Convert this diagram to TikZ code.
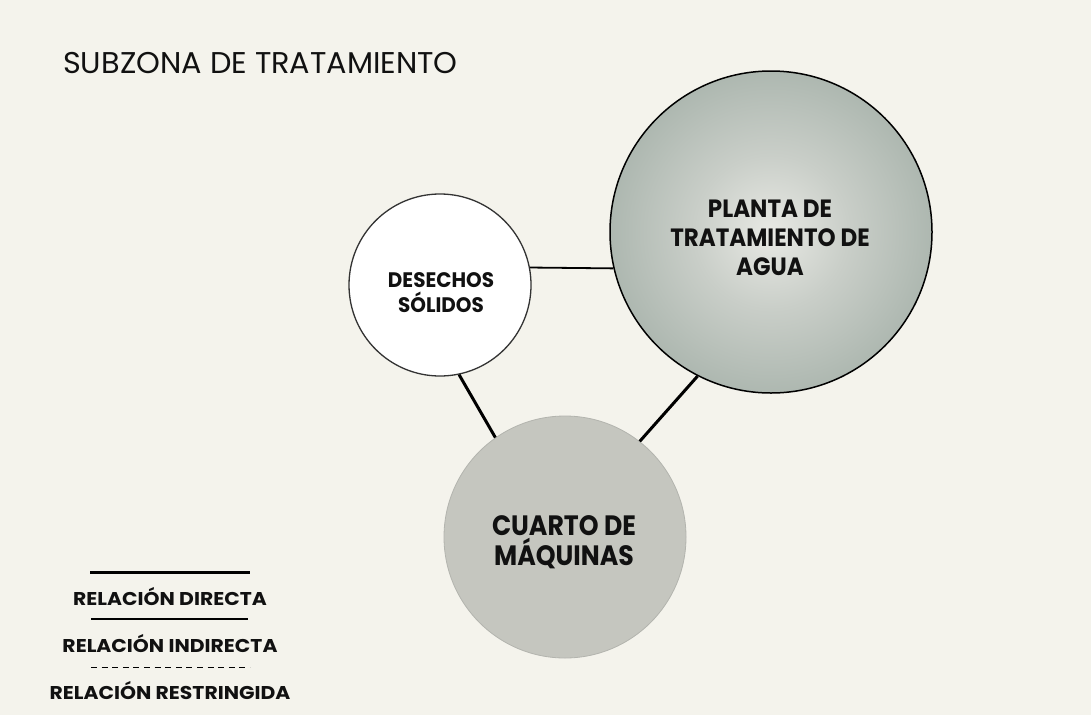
\documentclass[tikz,border=0pt]{standalone}
\usepackage{fontspec}
\usepackage{graphicx}
\setmainfont{Poppins}
\definecolor{bg}{HTML}{F4F3EC}
\definecolor{ptc1}{HTML}{E8E9E4}
\definecolor{ptc2}{HTML}{C9CEC8}
\definecolor{ptc3}{HTML}{A3AFA7}
\definecolor{ptc4}{HTML}{70857E}
\definecolor{cmfill}{HTML}{C5C6BF}
\definecolor{cmedge}{HTML}{B3B4AE}
\definecolor{txt}{HTML}{111111}
\newcommand\myhsc[2]{\scalebox{#1}[1]{#2}}
\pgfdeclareradialshading{plantshade}{\pgfpoint{0bp}{0bp}}{color(0bp)=(ptc1); color(12bp)=(ptc2); color(30bp)=(ptc3); color(50bp)=(ptc4)}
\tikzset{
  circ/.style={circle, inner sep=0pt},
  titletext/.style={font=\fontsize{30}{36}\selectfont, text=txt, inner sep=0pt, anchor=base west},
  bigtxt/.style={font=\bfseries\fontsize{25}{30}\selectfont, text=txt, inner sep=0pt, anchor=base},
  medtxt/.style={font=\bfseries\fontsize{28}{34}\selectfont, text=txt, inner sep=0pt, anchor=base},
  smalltxt/.style={font=\bfseries\fontsize{21}{25}\selectfont, text=txt, inner sep=0pt, anchor=base},
  legtxt/.style={font=\bfseries\fontsize{18.5}{22}\selectfont, text=txt, inner sep=0pt, anchor=base},
  thinlink/.style={line width=1.8pt, draw=black},
  thicklink/.style={line width=3pt, draw=black},
}
\begin{document}
\begin{tikzpicture}[x=1pt,y=-1pt]
\fill[bg] (0,0) rectangle (1091,715);
\useasboundingbox (0,0) rectangle (1091,715);

\node[titletext] (title) at (63,73) {\myhsc{1.01}{SUBZONA DE TRATAMIENTO}};

% circles
\node[circ, minimum size=322pt, shading=plantshade, draw=black, line width=1.5pt] (pt) at (771,232) {};
\node[circ, minimum size=182pt, fill=white, draw=black!80, line width=1.3pt] (ds) at (440,285) {};
\node[circ, minimum size=242pt, fill=cmfill, draw=cmedge, line width=0.8pt] (cm) at (565,537) {};

% connectors
\draw[thinlink] (ds.11) -- (pt.193);
\draw[thicklink] (ds.282) -- (cm.125);
\draw[thicklink] (pt.243) -- (cm.52);

% circle texts
\node[bigtxt] (pt1) at (770,217) {\myhsc{0.92}{PLANTA DE}};
\node[bigtxt] (pt2) at (770,246) {\myhsc{0.92}{TRATAMIENTO DE}};
\node[bigtxt] (pt3) at (770,275) {\myhsc{0.92}{AGUA}};
\node[smalltxt] (ds1) at (441,287) {\myhsc{0.95}{DESECHOS}};
\node[smalltxt] (ds2) at (441,312) {\myhsc{0.95}{SÓLIDOS}};
\node[medtxt] (cm1) at (564,535) {\myhsc{0.9}{CUARTO DE}};
\node[medtxt] (cm2) at (564,565) {\myhsc{0.9}{MÁQUINAS}};

% legend
\coordinate (l1a) at (90,572); \coordinate (l1b) at (250,572);
\coordinate (l2a) at (91,619); \coordinate (l2b) at (248,619);
\coordinate (l3a) at (91,667); \coordinate (l3b) at (250,667);
\draw[line width=3pt] (l1a) -- (l1b);
\draw[line width=2pt] (l2a) -- (l2b);
\draw[line width=1pt, dash pattern=on 6pt off 4.6pt] (l3a) -- (l3b);
\node[legtxt] (lg1) at (170,605) {\myhsc{1.1}{RELACIÓN DIRECTA}};
\node[legtxt] (lg2) at (170,652) {\myhsc{1.1}{RELACIÓN INDIRECTA}};
\node[legtxt] (lg3) at (170,699) {\myhsc{1.1}{RELACIÓN RESTRINGIDA}};
\end{tikzpicture}
\end{document}
